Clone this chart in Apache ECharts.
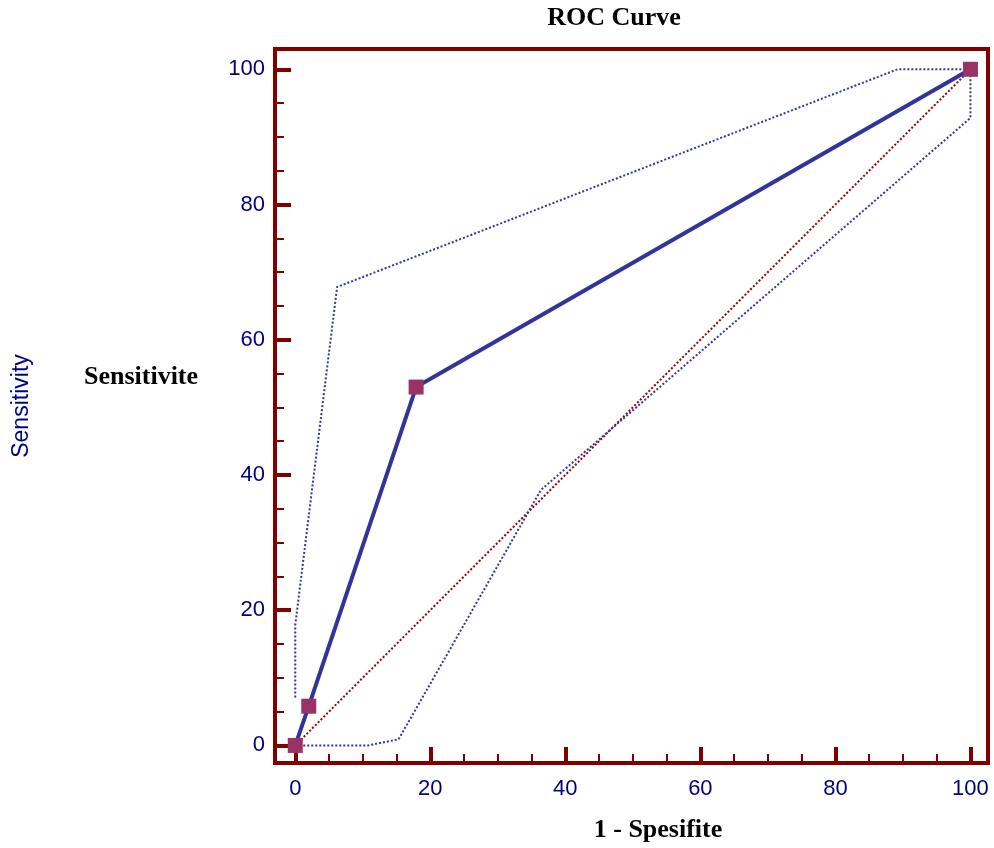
<!DOCTYPE html>
<html>
<head>
<meta charset="utf-8">
<script src="https://cdn.jsdelivr.net/npm/echarts@6/dist/echarts.min.js"></script>
<style>
  html, body { margin: 0; padding: 0; background: #fff; }
  #chart { width: 994px; height: 848px; }
</style>
</head>
<body>
<div id="chart"></div>
<script>
// ROC points (1 - specificity, sensitivity), in %
const rocX = [0, 2, 17.9, 100]
const rocY = [0, 5.8, 53, 100]

// confidence bounds
const upperX = [0, 0, 6.2, 89.2, 100]
const upperY = [7.1, 17.8, 67.8, 100, 100]
const lowerX = [0, 10.8, 15.3, 36.4, 100, 100]
const lowerY = [0, 0, 0.9, 37.8, 92.8, 100]

// reference diagonal
const diagX = [0, 100]
const diagY = [0, 100]

const majorTicks = [0, 20, 40, 60, 80, 100]
const minorTicks = [5, 10, 15, 25, 30, 35, 45, 50, 55, 65, 70, 75, 85, 90, 95]

const FRAME = '#800000'
const NAVY = '#000080'
const SERIF = '"Liberation Serif", "Times New Roman", serif'
const SANS = '"Liberation Sans", Arial, sans-serif'

const pairs = (xs, ys) => xs.map((x, i) => [x, ys[i]])

function axis(kind, extra) {
  const isX = kind === 'x'
  return Object.assign({
    type: 'value',
    position: isX ? 'bottom' : 'left',
    min: isX ? -3 : -2.6,
    max: isX ? 102.6 : 103,
    splitLine: { show: false },
    axisLine: { show: true, onZero: false, lineStyle: { color: FRAME, width: 4 } },
  }, extra)
}

const majorTick = {
  show: true, inside: true, length: 16, customValues: majorTicks,
  lineStyle: { color: FRAME, width: 4 },
}
const minorTick = {
  show: true, inside: true, length: 9, customValues: minorTicks,
  lineStyle: { color: FRAME, width: 2 },
}

const chart = echarts.init(document.getElementById('chart'), null, { renderer: 'canvas' })

chart.setOption({
  animation: false,
  grid: {
    left: 275, right: 6, top: 49, bottom: 85,
    show: true, borderColor: FRAME, borderWidth: 4, backgroundColor: '#fff',
  },
  xAxis: [
    axis('x', {
      axisTick: majorTick,
      axisLabel: { customValues: majorTicks, color: NAVY, fontFamily: SANS, fontSize: 22, margin: 15 },
    }),
    axis('x', { axisTick: minorTick, axisLabel: { show: false } }),
  ],
  yAxis: [
    axis('y', {
      axisTick: majorTick,
      axisLabel: { customValues: majorTicks, color: NAVY, fontFamily: SANS, fontSize: 22, margin: 10 },
    }),
    axis('y', { axisTick: minorTick, axisLabel: { show: false } }),
  ],
  graphic: [
    { type: 'text', x: 614, y: 18, style: { text: 'ROC Curve', font: 'bold 26px ' + SERIF, fill: '#000', align: 'center', verticalAlign: 'middle' } },
    { type: 'text', x: 658, y: 830, style: { text: '1 - Spesifite', font: 'bold 26px ' + SERIF, fill: '#000', align: 'center', verticalAlign: 'middle' } },
    { type: 'text', x: 141, y: 377, style: { text: 'Sensitivite', font: 'bold 26px ' + SERIF, fill: '#000', align: 'center', verticalAlign: 'middle' } },
    { type: 'text', x: 22, y: 406, rotation: Math.PI / 2, style: { text: 'Sensitivity', font: '23px ' + SANS, fill: NAVY, align: 'center', verticalAlign: 'middle' } },
  ],
  series: [
    {
      name: 'diagonal', type: 'line', data: pairs(diagX, diagY), symbol: 'none', z: 2,
      lineStyle: { color: '#990000', width: 2, type: 'dotted' },
    },
    {
      name: 'upper', type: 'line', data: pairs(upperX, upperY), symbol: 'none', z: 2,
      lineStyle: { color: '#3333aa', width: 2, type: 'dotted' },
    },
    {
      name: 'lower', type: 'line', data: pairs(lowerX, lowerY), symbol: 'none', z: 2,
      lineStyle: { color: '#3333aa', width: 2, type: 'dotted' },
    },
    {
      name: 'ROC', type: 'line', data: pairs(rocX, rocY), z: 3,
      symbol: 'rect', symbolSize: 15, showAllSymbol: true,
      lineStyle: { color: '#333399', width: 4 },
      itemStyle: { color: '#993366', borderWidth: 0 },
    },
  ],
})
</script>
</body>
</html>
